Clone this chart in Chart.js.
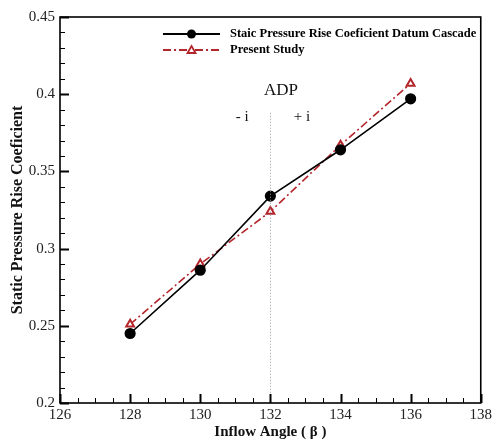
<!DOCTYPE html>
<html>
<head>
<meta charset="utf-8">
<script src="https://cdn.jsdelivr.net/npm/chart.js@4"></script>
<style>
  html, body { margin: 0; padding: 0; background: #fff; }
  #wrap { width: 495px; height: 441px; }
</style>
</head>
<body>
<div id="wrap"><canvas id="myChart" width="495" height="441"></canvas></div>
<script>
// inflow angle (deg)
const angles = [128, 130, 132, 134, 136];
// static pressure rise coefficient
const datumCascade = [0.245, 0.286, 0.334, 0.364, 0.397];
const presentStudy = [0.251, 0.290, 0.324, 0.367, 0.407];

const xTicks = [126, 128, 130, 132, 134, 136, 138];
const yTicks = [0.2, 0.25, 0.3, 0.35, 0.4, 0.45];

const adpAngle = 132;
const serif = '"Liberation Serif", "Times New Roman", serif';

// minor ticks, box, ADP line, labels and legend
const decorPlugin = {
  id: 'decor',
  afterDraw(chart) {
    const ctx = chart.ctx;
    const a = chart.chartArea;
    const xs = chart.scales.x, ys = chart.scales.y;
    ctx.save();

    // ADP dotted line
    ctx.strokeStyle = '#9a9a9a';
    ctx.lineWidth = 1;
    ctx.setLineDash([1, 2]);
    const xa = Math.round(xs.getPixelForValue(adpAngle)) + 0.5;
    ctx.beginPath();
    ctx.moveTo(xa, ys.getPixelForValue(0.388));
    ctx.lineTo(xa, a.bottom);
    ctx.stroke();
    ctx.setLineDash([]);

    // ticks (inside)
    ctx.strokeStyle = '#000';
    for (let v = 126; v <= 138.001; v += 0.5) {
      const p = Math.round(xs.getPixelForValue(v)) + 0.5;
      const major = Math.abs(v % 2) < 1e-6;
      ctx.lineWidth = major ? 2 : 1;
      ctx.beginPath();
      ctx.moveTo(p, a.bottom);
      ctx.lineTo(p, a.bottom - (major ? 9 : 5));
      ctx.stroke();
    }
    for (let i = 0; i <= 25; i++) {
      const v = 0.2 + i * 0.01;
      const p = Math.round(ys.getPixelForValue(v)) + 0.5;
      const major = i % 5 === 0;
      ctx.lineWidth = major ? 2 : 1;
      ctx.beginPath();
      ctx.moveTo(a.left, p);
      ctx.lineTo(a.left + (major ? 9 : 5), p);
      ctx.stroke();
    }

    // frame
    ctx.lineWidth = 1.6;
    ctx.strokeRect(a.left, a.top, a.right - a.left, a.bottom - a.top);

    // ADP text
    ctx.fillStyle = '#111';
    ctx.textAlign = 'center';
    ctx.textBaseline = 'middle';
    ctx.font = '17px ' + serif;
    ctx.fillText('ADP', xs.getPixelForValue(132.3), ys.getPixelForValue(0.4025));
    ctx.font = '15px ' + serif;
    ctx.fillText('- i', xs.getPixelForValue(131.2), ys.getPixelForValue(0.385));
    ctx.fillText('+ i', xs.getPixelForValue(132.9), ys.getPixelForValue(0.385));

    // legend
    const rows = chart.data.datasets;
    ctx.font = 'bold 12.5px ' + serif;
    ctx.textAlign = 'left';
    rows.forEach((ds, i) => {
      const y = a.top + 17 + i * 16;
      const x0 = 163, x1 = 220;
      ctx.strokeStyle = ds.borderColor;
      ctx.lineWidth = 1.8;
      ctx.setLineDash(ds.borderDash || []);
      ctx.beginPath();
      ctx.moveTo(x0, y);
      ctx.lineTo(x1, y);
      ctx.stroke();
      ctx.setLineDash([]);
      const mx = (x0 + x1) / 2;
      if (ds.pointStyle === 'triangle') {
        ctx.fillStyle = '#fff';
        ctx.beginPath();
        ctx.moveTo(mx, y - 4);
        ctx.lineTo(mx + 4, y + 3);
        ctx.lineTo(mx - 4, y + 3);
        ctx.closePath();
        ctx.fill();
        ctx.stroke();
      } else {
        ctx.fillStyle = ds.pointBackgroundColor;
        ctx.beginPath();
        ctx.arc(mx, y, 4.5, 0, Math.PI * 2);
        ctx.fill();
      }
      ctx.fillStyle = '#000';
      ctx.fillText(ds.label, 230, y);
    });
    ctx.restore();
  }
};

const data = {
  datasets: [{
    label: 'Staic Pressure Rise Coeficient Datum Cascade',
    data: angles.map((x, i) => ({ x: x, y: datumCascade[i] })),
    borderColor: '#000',
    backgroundColor: '#000',
    pointBackgroundColor: '#000',
    pointBorderColor: '#000',
    pointStyle: 'circle',
    pointRadius: 4.8,
    borderWidth: 1.6,
    showLine: true
  }, {
    label: 'Present Study',
    data: angles.map((x, i) => ({ x: x, y: presentStudy[i] })),
    borderColor: '#b4262b',
    backgroundColor: '#b4262b',
    pointBackgroundColor: '#fff',
    pointBorderColor: '#b4262b',
    pointStyle: 'triangle',
    pointRadius: 4.5,
    pointBorderWidth: 2,
    borderWidth: 1.6,
    borderDash: [8, 3, 2, 3],
    showLine: true
  }]
};

const config = {
  type: 'scatter',
  data: data,
  options: {
    responsive: false,
    animation: false,
    layout: { padding: { left: 0, right: 13, top: 17, bottom: 0 } },
    plugins: { legend: { display: false }, tooltip: { enabled: false } },
    scales: {
      x: {
        type: 'linear',
        min: 126, max: 138,
        afterBuildTicks: s => { s.ticks = xTicks.map(v => ({ value: v })); },
        afterFit: s => { s.height = 38; },
        grid: { display: false, drawTicks: false },
        border: { display: false },
        ticks: { color: '#222', font: { family: serif, size: 15 }, padding: 3, maxRotation: 0 },
        title: { display: true, text: 'Inflow Angle ( β )', color: '#111',
                 font: { family: serif, size: 15, weight: 'bold' }, padding: { top: 1, bottom: 0 } }
      },
      y: {
        type: 'linear',
        min: 0.2, max: 0.45,
        afterBuildTicks: s => { s.ticks = yTicks.map(v => ({ value: v })); },
        afterFit: s => { s.width = 60; },
        grid: { display: false, drawTicks: false },
        border: { display: false },
        ticks: { color: '#222', font: { family: serif, size: 15 }, padding: 5,
                 callback: v => String(+v.toFixed(2)) },
        title: { display: true, text: 'Static Pressure Rise Coeficient', color: '#111',
                 font: { family: serif, size: 16, weight: 'bold' }, padding: { top: 8, bottom: 0 } }
      }
    }
  },
  plugins: [decorPlugin]
};

const myChart = new Chart(document.getElementById('myChart'), config);
</script>
</body>
</html>
